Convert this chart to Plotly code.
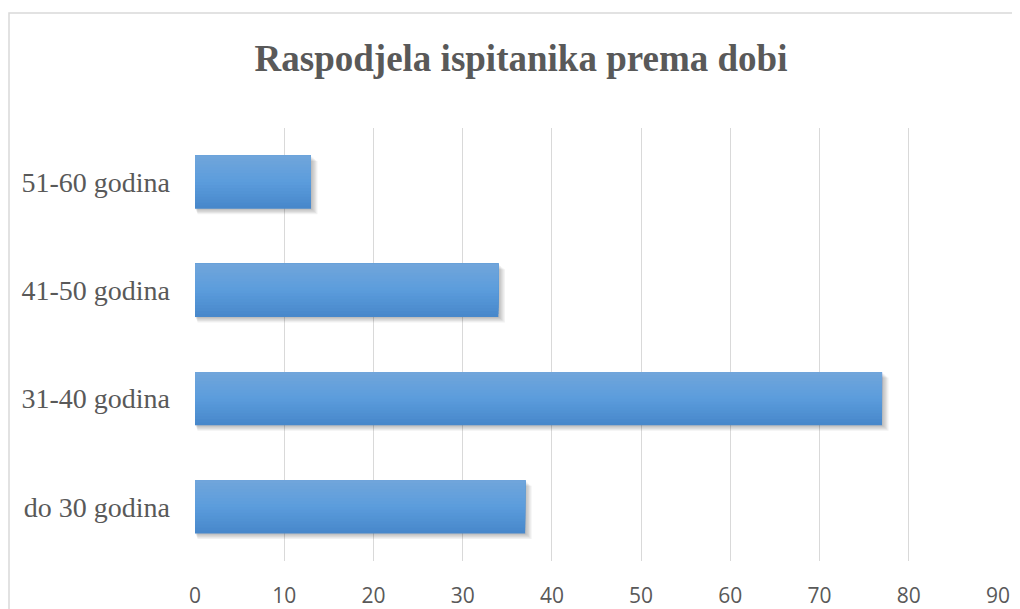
import plotly.graph_objects as go

categories = ["do 30 godina", "31-40 godina", "41-50 godina", "51-60 godina"]
values = [37, 77, 34, 13]
tick_vals = [0, 10, 20, 30, 40, 50, 60, 70, 80, 90]
title_text = "Raspodjela ispitanika prema dobi"

OFF = 8  # page body margin
W, H = 1012, 601
ml, mr, mt, mb = 195 - OFF, 22, 128 - OFF, 48
pw, ph = W - ml - mr, H - mt - mb

BAR_W = 0.49
BAR_OFF = -0.245
PX_X = 90 / pw          # one pixel in x units
PX_Y = 4 / ph           # one pixel in category units

fig = go.Figure()

# soft shadow (several translucent layers)
for k in range(1, 6):
    fig.add_trace(go.Bar(
        y=categories, x=[v + PX_X * k * 0.8 for v in values], base=PX_X * k * 0.5,
        orientation="h", width=BAR_W, offset=BAR_OFF - PX_Y * k * 1.1,
        marker=dict(color="rgba(0,0,0,0.055)", line=dict(width=0)),
        hoverinfo="skip", showlegend=False))

# vertical gradient of the bar: each layer spans from its band up to the bar top,
# so later layers cover earlier ones without seams
top = (0x71, 0xA6, 0xDB)
mid = (0x5B, 0x9C, 0xDC)
bot = (0x47, 0x87, 0xCA)
N = 18
band = BAR_W / N
for i in range(N):
    t = (i + 0.5) / N  # 0 = bottom, 1 = top
    if t < 0.5:
        a, b, f = bot, mid, t / 0.5
    else:
        a, b, f = mid, top, (t - 0.5) / 0.5
    c = tuple(round(a[j] + (b[j] - a[j]) * f) for j in range(3))
    fig.add_trace(go.Bar(
        y=categories, x=values, orientation="h",
        width=BAR_W - i * band, offset=BAR_OFF + i * band,
        marker=dict(color="rgb(%d,%d,%d)" % c, line=dict(width=0)),
        hoverinfo="skip" if i else None, showlegend=False))

fig.update_layout(
    width=W, height=H,
    margin=dict(l=ml, r=mr, t=mt, b=mb, autoexpand=False),
    paper_bgcolor="white", plot_bgcolor="white",
    barmode="overlay",
    title=dict(text="<b>" + title_text + "</b>", x=(521 - OFF) / W, xref="container",
               xanchor="center", y=1 - (58 - OFF) / H, yref="container", yanchor="middle",
               font=dict(family="Liberation Serif", size=37, color="#595959")),
    xaxis=dict(range=[0, 90], tickvals=tick_vals, showgrid=True, gridcolor="#d9d9d9",
               gridwidth=1, zeroline=False, showline=False, automargin=False,
               ticks="outside", ticklen=16, tickcolor="rgba(0,0,0,0)",
               tickfont=dict(family="Open Sans", size=21, color="#595959")),
    yaxis=dict(categoryorder="array", categoryarray=categories, showgrid=False,
               zeroline=False, showline=False, ticks="", ticklabelstandoff=24,
               automargin=False,
               tickfont=dict(family="Liberation Serif", size=28, color="#595959")),
    shapes=[dict(type="rect", xref="paper", yref="paper",
                 x0=(1 - ml) / pw, x1=1.1, y0=-0.3, y1=(H - mb - (13 - OFF)) / ph,
                 line=dict(color="#d9d9d9", width=1.5), fillcolor="rgba(0,0,0,0)",
                 layer="below")],
)

fig.write_html("out.html")
